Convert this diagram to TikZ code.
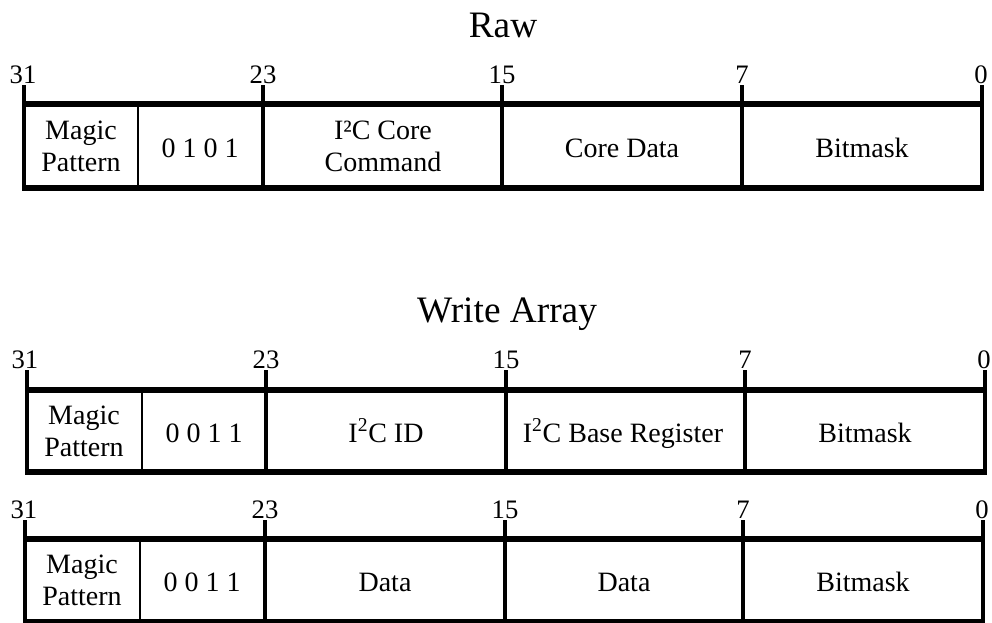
\documentclass[tikz,border=0pt]{standalone}
\usepackage{fontspec}
\setmainfont{Liberation Serif}
\begin{document}
\begin{tikzpicture}[x=0.75pt,y=-0.75pt,
  hline/.style={line width=4.8pt,line cap=butt},
  vline/.style={line width=2.5pt,line cap=butt},
  divline/.style={line width=1.9pt,line cap=butt},
  field/.style={inner sep=0pt,align=center,font=\fontsize{21}{24}\selectfont},
  onefield/.style={field,anchor=base},
  bitno/.style={inner sep=0pt,anchor=base,font=\fontsize{20}{20}\selectfont},
  title/.style={inner sep=0pt,anchor=base,font=\fontsize{28}{28}\selectfont}]
\useasboundingbox (0,0) rectangle (992,622);

% frame of one register: #1 tick top, #2 top line, #3 bottom line,
% #4..#8 x of bits 31,23,15,7,0
\newcommand{\regframe}[8]{%
  \foreach \xx in {#4,#5,#6,#7,#8}{\draw[vline] (\xx,#1) -- (\xx,#3);}
  \draw[hline] ({#4-1.6},#2) -- ({#8+1.6},#2);
  \draw[hline] ({#4-1.6},#3) -- ({#8+1.6},#3);
}

% ---------------- Raw ----------------
\node[title] (rawtitle) at (503,37) {Raw};
\regframe{85}{104}{188}{24}{263}{502}{742}{982}
\draw[divline] (138,104) -- (138,188);
\node[bitno] (r1b31) at (23,83) {31};
\node[bitno] (r1b23) at (263,83) {23};
\node[bitno] (r1b15) at (502,83) {15};
\node[bitno] (r1b7)  at (742,83) {7};
\node[bitno] (r1b0)  at (981,83) {0};
\node[field]    (r1magic) at (81,146) {Magic\\Pattern};
\node[onefield] (r1op)    at (200,157) {0 1 0 1};
\node[field]    (r1cmd)   at (383,146) {I²C Core\\Command};
\node[onefield] (r1data)  at (622,157) {Core Data};
\node[onefield] (r1mask)  at (862,157) {Bitmask};

% ---------------- Write Array ----------------
\node[title] (wrtitle) at (507,322) {Write Array};
\regframe{370}{390}{472}{27}{266}{506}{745}{985}
\draw[divline] (142,390) -- (142,472);
\node[bitno] (r2b31) at (25,368) {31};
\node[bitno] (r2b23) at (266,368) {23};
\node[bitno] (r2b15) at (506,368) {15};
\node[bitno] (r2b7)  at (745,368) {7};
\node[bitno] (r2b0)  at (984,368) {0};
\node[field]    (r2magic) at (84,431) {Magic\\Pattern};
\node[onefield] (r2op)    at (204,442) {0 0 1 1};
\node[onefield] (r2id)    at (386,442) {I\textsuperscript{2}C ID};
\node[onefield] (r2reg)   at (623,442) {I\textsuperscript{2}C Base Register};
\node[onefield] (r2mask)  at (865,442) {Bitmask};

\regframe{520}{539}{622}{25}{265}{505}{743}{983}
\draw[divline] (140,539) -- (140,622);
\node[bitno] (r3b31) at (24,518) {31};
\node[bitno] (r3b23) at (265,518) {23};
\node[bitno] (r3b15) at (505,518) {15};
\node[bitno] (r3b7)  at (743,518) {7};
\node[bitno] (r3b0)  at (982,518) {0};
\node[field]    (r3magic) at (82,580) {Magic\\Pattern};
\node[onefield] (r3op)    at (202,591) {0 0 1 1};
\node[onefield] (r3d1)    at (385,591) {Data};
\node[onefield] (r3d2)    at (624,591) {Data};
\node[onefield] (r3mask)  at (863,591) {Bitmask};
\end{tikzpicture}
\end{document}
